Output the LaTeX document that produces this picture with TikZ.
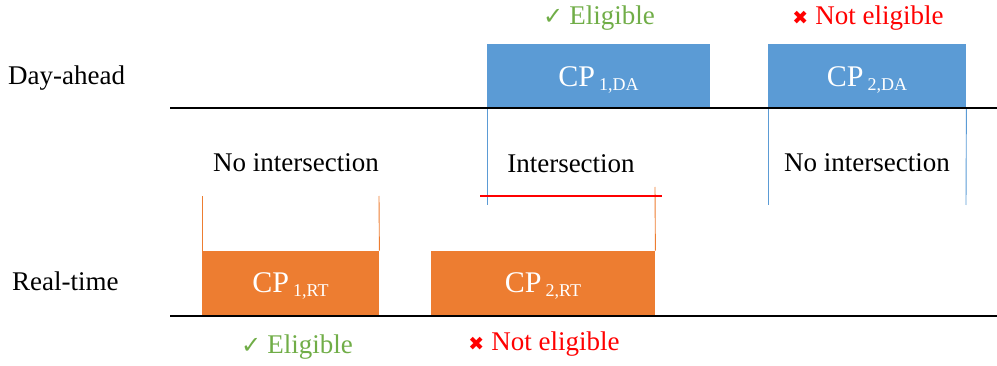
\documentclass[tikz,border=0pt]{standalone}
\usepackage{fontspec}
\setmainfont{Liberation Serif}
\newfontfamily\symfont{DejaVu Sans}
\definecolor{dablue}{HTML}{5B9BD5}
\definecolor{rtorange}{HTML}{ED7D31}
\definecolor{okgreen}{HTML}{70AD47}
\definecolor{nored}{HTML}{FF0000}
\newcommand{\cpsub}[1]{CP\kern4pt\raisebox{-4pt}{\fontsize{18}{20}\selectfont #1}}
\newcommand{\okmark}{{\symfont\fontsize{24}{26}\selectfont ✓}\kern6pt}
\newcommand{\nomark}{{\symfont\fontsize{19}{22}\selectfont ✖}\kern7pt}
\begin{document}
\begin{tikzpicture}[x=1pt,y=-1pt,
  lbl/.style={font=\fontsize{27}{31}\selectfont, inner sep=0pt, anchor=base},
  sidelbl/.style={font=\fontsize{27}{31}\selectfont, inner sep=0pt, anchor=base west},
  okl/.style={lbl, text=okgreen},
  nol/.style={lbl, text=nored},
  dabox/.style={fill=dablue, draw=none, inner sep=0pt, anchor=south west, minimum height=64pt},
  rtbox/.style={fill=rtorange, draw=none, inner sep=0pt, anchor=south west, minimum height=65pt},
  cptext/.style={font=\fontsize{30}{34}\selectfont, text=white, inner sep=0pt, anchor=base},
  axis/.style={black, line width=1.2pt},
  daedge/.style={dablue, line width=0.9pt},
  rtedge/.style={rtorange, line width=0.9pt},
  overlap/.style={nored, line width=2.2pt}
]
\useasboundingbox (0,0) rectangle (997,366);

% boxes
\node[dabox, minimum width=223pt] (da1) at (487,108) {};
\node[dabox, minimum width=198pt] (da2) at (768,108) {};
\node[rtbox, minimum width=177pt] (rt1) at (202,316) {};
\node[rtbox, minimum width=224pt] (rt2) at (431,316) {};

\node[cptext] (da1t) at (598.5,87) {\cpsub{1,DA}};
\node[cptext] (da2t) at (867,87) {\cpsub{2,DA}};
\node[cptext] (rt1t) at (290.5,293) {\cpsub{1,RT}};
\node[cptext] (rt2t) at (543,293) {\cpsub{2,RT}};

% coordinates for edges
\coordinate (b1) at (487,205);
\coordinate (b2) at (768,205);
\coordinate (b3) at (966,205);
\coordinate (o1) at (202,196);
\coordinate (o2) at (379,196);
\coordinate (o3) at (655,187);
\coordinate (rl) at (480,196);
\coordinate (rr) at (662,196);
\coordinate (tl) at (170,108);
\coordinate (tr) at (997,108);
\coordinate (bl) at (170,316);
\coordinate (br) at (997,316);

\draw[daedge] (da1.south west) -- (b1);
\draw[daedge] (da2.south west) -- (b2);
\draw[daedge] (da2.south east) -- (b3);
\draw[rtedge] (rt1.north west) -- (o1);
\draw[rtedge] (rt1.north east) -- (o2);
\draw[rtedge] (rt2.north east) -- (o3);
\draw[overlap] (rl) -- (rr);
\draw[axis] (tl) -- (tr);
\draw[axis] (bl) -- (br);

% labels
\node[sidelbl] (dal) at (8,85) {Day-ahead};
\node[sidelbl] (rtl) at (12,291) {Real-time};
\node[lbl] (ni1) at (296,172) {No intersection};
\node[lbl] (int) at (571,173) {Intersection};
\node[lbl] (ni2) at (867,172) {No intersection};

\node[okl] (e1) at (599,25) {\okmark Eligible};
\node[nol] (n1) at (868,25) {\nomark Not eligible};
\node[okl] (e2) at (297,353) {\okmark Eligible};
\node[nol] (n2) at (544,351) {\nomark Not eligible};
\end{tikzpicture}
\end{document}
